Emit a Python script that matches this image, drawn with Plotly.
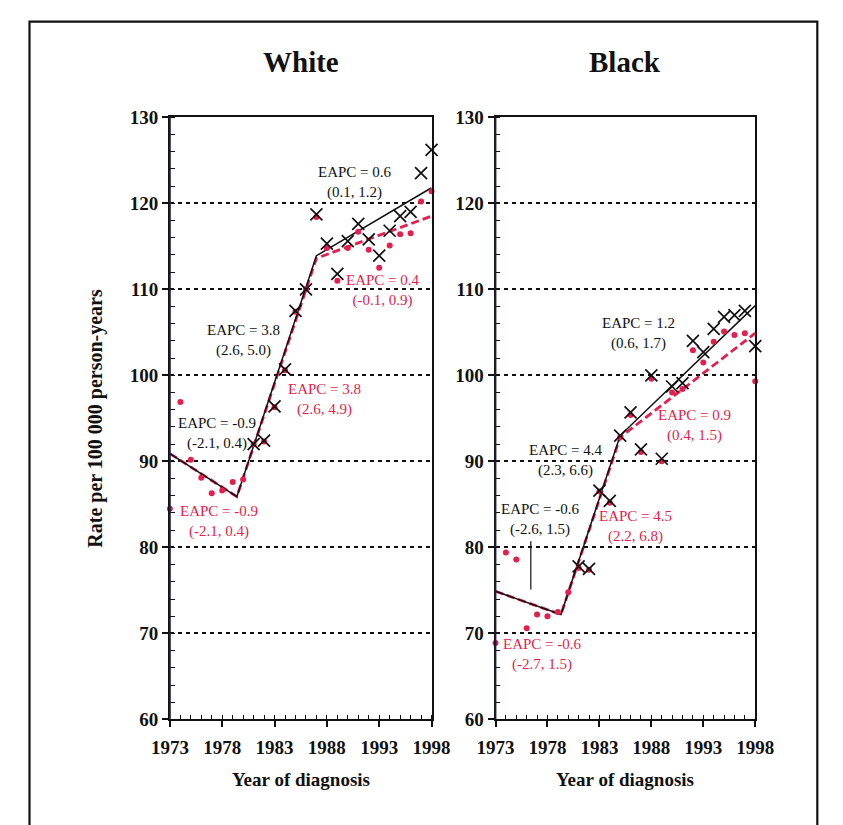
import plotly.graph_objects as go

# ---- data -------------------------------------------------------------
years = list(range(1973, 1999))
adj_years = list(range(1981, 1999))

# White: observed rates (dots) and delay-adjusted rates (crosses)
white_observed = [84.5, 96.9, 90.2, 88.1, 86.3, 86.6, 87.6, 87.9, 92.0, 92.3,
                  96.3, 100.6, 107.4, 110.0, 118.4, 114.8, 111.0, 114.8, 116.7,
                  114.6, 112.5, 115.1, 116.4, 116.5, 120.2, 121.4]
white_adjusted = [92.0, 92.4, 96.4, 100.7, 107.5, 110.0, 118.7, 115.3, 111.8,
                  115.6, 117.6, 115.8, 113.9, 116.8, 118.5, 119.0, 123.5, 126.2]

# Black: observed rates (dots) and delay-adjusted rates (crosses)
black_observed = [68.9, 79.4, 78.6, 70.6, 72.2, 72.0, 72.5, 74.8, 77.6, 77.4,
                  86.5, 85.2, 92.8, 95.4, 91.1, 99.6, 90.0, 98.0, 98.4, 102.9,
                  101.5, 103.9, 105.1, 104.7, 104.9, 99.3]
black_adjusted = [77.8, 77.5, 86.6, 85.4, 93.0, 95.7, 91.4, 100.0, 90.3, 98.7,
                  99.1, 104.0, 102.7, 105.4, 106.8, 107.0, 107.5, 103.4]

# Joinpoint fits (segment end points)
white_fit_x = [1973, 1979.4, 1987, 1998]
white_fit_adj = [90.9, 85.9, 113.9, 121.8]
white_fit_obs = [90.9, 85.9, 113.6, 118.5]
black_fit_x = [1973, 1979.3, 1985, 1998]
black_fit_adj = [74.9, 72.2, 93.0, 108.1]
black_fit_obs = [74.9, 72.2, 92.8, 104.9]

# Leader line for the first black-panel label
black_leader_x = [1976.4, 1976.4]
black_leader_y = [75.1, 80.7]

tick_years = [1973, 1978, 1983, 1988, 1993, 1998]

# EAPC labels: (text, colour key, x, y) for each panel
white_labels = [
    ("EAPC = 0.6<br>(0.1, 1.2)", "k", 1990.7, 122.4),
    ("EAPC = 0.4<br>(-0.1, 0.9)", "r", 1993.4, 109.9),
    ("EAPC = 3.8<br>(2.6, 5.0)", "k", 1980.0, 104.0),
    ("EAPC = 3.8<br>(2.6, 4.9)", "r", 1987.8, 97.2),
    ("EAPC = -0.9<br>(-2.1, 0.4)", "k", 1977.5, 93.2),
    ("EAPC = -0.9<br>(-2.1, 0.4)", "r", 1977.7, 83.0),
]
black_labels = [
    ("EAPC = 1.2<br>(0.6, 1.7)", "k", 1986.8, 104.9),
    ("EAPC = 0.9<br>(0.4, 1.5)", "r", 1992.2, 94.2),
    ("EAPC = 4.4<br>(2.3, 6.6)", "k", 1979.8, 90.1),
    ("EAPC = 4.5<br>(2.2, 6.8)", "r", 1986.5, 82.4),
    ("EAPC = -0.6<br>(-2.6, 1.5)", "k", 1977.3, 83.2),
    ("EAPC = -0.6<br>(-2.7, 1.5)", "r", 1977.5, 67.6),
]

# ---- styling ----------------------------------------------------------
W, H = 843, 825
SERIF = "Liberation Serif"
RED = "#e51e4d"
BLACK = "#111111"
NAVY = "#1c1c4a"
COLORS = {"k": BLACK, "r": RED}

fig = go.Figure()


def add_panel(xa, ya, observed, adjusted, fit_x, fit_adj, fit_obs):
    fig.add_trace(go.Scatter(x=fit_x, y=fit_obs, mode="lines", xaxis=xa, yaxis=ya,
                             line=dict(color=RED, width=2.8, dash="8px,4px"),
                             hoverinfo="skip", showlegend=False))
    fig.add_trace(go.Scatter(x=fit_x, y=fit_adj, mode="lines", xaxis=xa, yaxis=ya,
                             line=dict(color=BLACK, width=1.5),
                             hoverinfo="skip", showlegend=False))
    fig.add_trace(go.Scatter(x=years, y=observed, mode="markers", xaxis=xa, yaxis=ya,
                             marker=dict(color=RED, size=6, symbol="circle"),
                             cliponaxis=False, showlegend=False))
    fig.add_trace(go.Scatter(x=adj_years, y=adjusted, mode="markers", xaxis=xa, yaxis=ya,
                             marker=dict(symbol="x-thin", size=12,
                                         line=dict(color=BLACK, width=1.7)),
                             cliponaxis=False, showlegend=False))


add_panel("x", "y", white_observed, white_adjusted, white_fit_x, white_fit_adj, white_fit_obs)
add_panel("x2", "y2", black_observed, black_adjusted, black_fit_x, black_fit_adj, black_fit_obs)

fig.add_trace(go.Scatter(x=black_leader_x, y=black_leader_y, mode="lines", xaxis="x2", yaxis="y2",
                         line=dict(color=BLACK, width=1.2), hoverinfo="skip", showlegend=False))

tick_font = dict(family=SERIF, size=19, color=BLACK, weight="bold")


def x_axis(domain, anchor):
    return dict(domain=domain, anchor=anchor, range=[1973, 1998],
                tickmode="array", tickvals=tick_years, ticktext=[str(t) for t in tick_years],
                ticks="outside", ticklen=6, tickwidth=1.5, tickcolor=BLACK,
                ticklabelstandoff=4,
                showline=True, linecolor=BLACK, linewidth=1.8, mirror=True,
                showgrid=False, zeroline=False, tickfont=tick_font,
                minor=dict(tick0=1973, dtick=1, ticks="inside", ticklen=5,
                           tickwidth=1.2, tickcolor=BLACK, showgrid=False),
                fixedrange=True)


def y_axis(domain, anchor):
    return dict(domain=domain, anchor=anchor, range=[60, 130],
                tick0=60, dtick=10, ticks="outside", ticklen=6, tickwidth=1.5,
                tickcolor=BLACK, showline=True, linecolor=BLACK, linewidth=1.8,
                mirror=True, showgrid=True, gridcolor=BLACK, gridwidth=1.6,
                griddash="4px,4px", zeroline=False, tickfont=tick_font,
                minor=dict(tick0=60, dtick=2, ticks="inside", ticklen=5,
                           tickwidth=1.2, tickcolor=BLACK, showgrid=False),
                fixedrange=True)


ydom = [1 - 728 / H, 1 - 110 / H]
wdom = [158 / W, 432 / W]
bdom = [499 / W, 771 / W]

annotations = []
for labels, xr, yr in ((white_labels, "x", "y"), (black_labels, "x2", "y2")):
    for text, ck, lx, ly in labels:
        annotations.append(dict(text=text, x=lx, y=ly, xref=xr, yref=yr, showarrow=False,
                                xanchor="center", yanchor="middle",
                                font=dict(family=SERIF, size=15, color=COLORS[ck]),
                                align="center"))

title_font = dict(family=SERIF, size=29, color=BLACK, weight="bold")
xlabel_font = dict(family=SERIF, size=19, color=BLACK, weight="bold")
ylabel_font = dict(family=SERIF, size=20, color=BLACK, weight="bold")


def paper_text(text, px, py, font, angle=0):
    return dict(text=text, x=px / W, y=1 - py / H, xref="paper", yref="paper",
                xanchor="center", yanchor="middle", showarrow=False,
                textangle=angle, font=font)


annotations += [
    paper_text("White", (158 + 432) / 2, 53, title_font),
    paper_text("Black", (499 + 771) / 2, 53, title_font),
    paper_text("Year of diagnosis", (158 + 432) / 2, 790, xlabel_font),
    paper_text("Year of diagnosis", (499 + 771) / 2, 790, xlabel_font),
    paper_text("Rate per 100 000 person-years", 80, (110 + 728) / 2, ylabel_font, -90),
]

fig.update_layout(
    width=W, height=H,
    margin=dict(l=0, r=0, t=0, b=0),
    paper_bgcolor="white", plot_bgcolor="white",
    xaxis=x_axis(wdom, "y"), yaxis=y_axis(ydom, "x"),
    xaxis2=x_axis(bdom, "y2"), yaxis2=y_axis(ydom, "x2"),
    annotations=annotations,
    shapes=[
        dict(type="rect", xref="paper", yref="paper",
             x0=11 / W, x1=836 / W, y0=-0.05, y1=1 - 12 / H,
             line=dict(color=BLACK, width=2.2)),
        # dark blue left spines
        dict(type="line", xref="paper", yref="paper", x0=wdom[0], x1=wdom[0],
             y0=ydom[0], y1=ydom[1], line=dict(color=NAVY, width=1.8)),
        dict(type="line", xref="paper", yref="paper", x0=bdom[0], x1=bdom[0],
             y0=ydom[0], y1=ydom[1], line=dict(color=NAVY, width=1.8)),
    ],
    showlegend=False,
)

fig.write_html("out.html")
